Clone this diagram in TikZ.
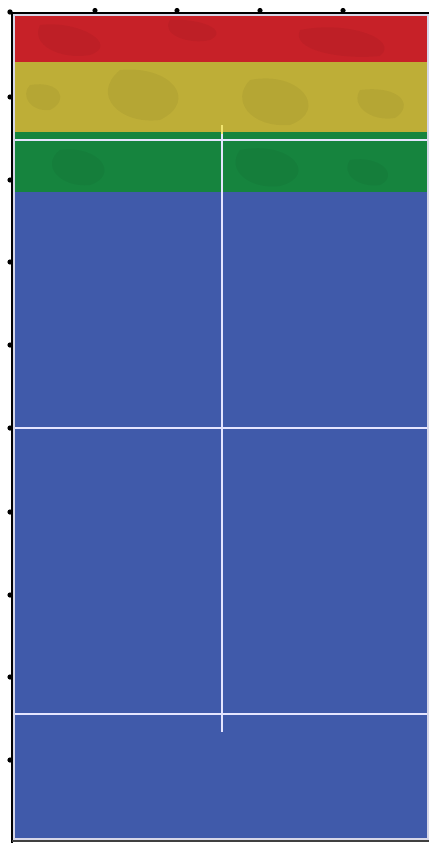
\documentclass[tikz,border=0pt]{standalone}
\begin{document}
\begin{tikzpicture}[x=1pt,y=-1pt,
  courtline/.style={draw=white!90!blue, line width=2.4pt},
  frameline/.style={draw=black, line width=2pt},
  tickdot/.style={fill=black, draw=none},
  mottle/.style={fill=black, opacity=0.045}]
\definecolor{cred}{RGB}{199,33,40}
\definecolor{cyel}{RGB}{190,174,55}
\definecolor{cgreen}{RGB}{22,132,62}
\definecolor{cblue}{RGB}{64,90,170}
\definecolor{cedge}{RGB}{215,215,232}
\definecolor{paley}{RGB}{240,228,110}
\useasboundingbox (0,0) rectangle (429,843);
\fill[white] (0,0) rectangle (429,843);
% court surface with pale edge
\fill[cedge] (13,14) rectangle (429,840);
\fill[cred] (15,16) rectangle (427,62);
\fill[cyel] (15,62) rectangle (427,132);
\fill[cgreen] (15,132) rectangle (427,192);
\fill[cblue] (15,192) rectangle (427,838);
% subtle texture patches
\begin{scope}
\clip (15,16) rectangle (427,192);
\fill[mottle] (40,25) .. controls (80,20) and (120,45) .. (90,55) .. controls (60,60) and (30,45) .. cycle;
\fill[mottle] (300,30) .. controls (350,20) and (400,40) .. (380,56) .. controls (340,60) and (290,50) .. cycle;
\fill[mottle] (170,20) .. controls (200,18) and (230,30) .. (210,40) .. controls (190,45) and (160,35) .. cycle;
\fill[mottle] (120,70) .. controls (170,65) and (200,100) .. (160,120) .. controls (120,125) and (90,95) .. cycle;
\fill[mottle] (250,80) .. controls (300,70) and (330,110) .. (290,125) .. controls (250,128) and (230,100) .. cycle;
\fill[mottle] (30,85) .. controls (60,80) and (70,100) .. (50,110) .. controls (30,112) and (20,95) .. cycle;
\fill[mottle] (360,90) .. controls (400,85) and (415,105) .. (395,118) .. controls (370,122) and (350,105) .. cycle;
\fill[mottle] (60,150) .. controls (100,145) and (120,175) .. (90,185) .. controls (60,188) and (40,165) .. cycle;
\fill[mottle] (240,150) .. controls (290,140) and (320,175) .. (280,186) .. controls (250,190) and (225,170) .. cycle;
\fill[mottle] (350,160) .. controls (380,155) and (400,175) .. (380,185) .. controls (360,188) and (340,175) .. cycle;
\end{scope}
% court lines
\coordinate (h1l) at (15,140); \coordinate (h1r) at (427,140);
\coordinate (h2l) at (15,428); \coordinate (h2r) at (427,428);
\coordinate (h3l) at (15,714); \coordinate (h3r) at (427,714);
\coordinate (vt) at (222,125); \coordinate (vm) at (222,134); \coordinate (vb) at (222,732);
\draw[courtline] (h1l) -- (h1r);
\draw[courtline] (h2l) -- (h2r);
\draw[courtline] (h3l) -- (h3r);
\draw[courtline, draw=paley] (vt) -- (vm);
\draw[courtline] (vm) -- (vb);
% frame
\coordinate (tl) at (12,13); \coordinate (tr) at (429,13);
\coordinate (bl) at (12,843); \coordinate (br) at (429,841);
\draw[frameline] (10,13) -- (tr);
\draw[frameline] (12,12) -- (bl);
\draw[draw=black!75, line width=1.4pt] (12,841) -- (br);
% ticks
\fill[tickdot] (10,12) circle (2.7);
\foreach \x in {95,177,260,343} \fill[tickdot] (\x,10.5) circle (2.6);
\foreach \y in {97,180,262,345,428,512,595,677,760} \fill[tickdot] (10,\y) circle (2.6);
\end{tikzpicture}
\end{document}
